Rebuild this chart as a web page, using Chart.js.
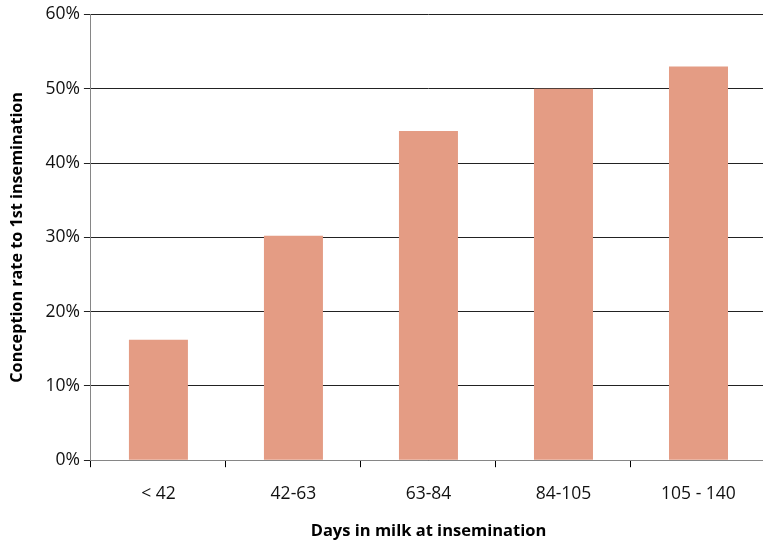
<!DOCTYPE html>
<html>
<head>
<meta charset="utf-8">
<script src="https://cdn.jsdelivr.net/npm/chart.js@4/dist/chart.umd.min.js"></script>
<style>
  html, body { margin: 0; padding: 0; background: #fff; overflow: hidden; }
  #wrap { position: relative; width: 766px; height: 541px; }
</style>
</head>
<body>
<div id="wrap"><canvas id="c"></canvas></div>
<script>
const categories = ['< 42', '42-63', '63-84', '84-105', '105 - 140'];
const conceptionRate = [16.2, 30.2, 44.3, 50.0, 53.0];
const yTicks = [0, 10, 20, 30, 40, 50, 60];

const FONT = '"Open Sans", "DejaVu Sans", sans-serif';

new Chart(document.getElementById('c'), {
  type: 'bar',
  data: {
    labels: categories,
    datasets: [{
      data: conceptionRate,
      backgroundColor: '#e49c84',
      borderWidth: 0,
      barPercentage: 0.437,
      categoryPercentage: 1.0
    }]
  },
  options: {
    responsive: true,
    maintainAspectRatio: false,
    animation: false,
    layout: { padding: { top: 3, right: 0, bottom: 0, left: 8 } },
    plugins: { legend: { display: false }, tooltip: { enabled: false } },
    scales: {
      x: {
        grid: {
          offset: true,
          drawOnChartArea: false,
          drawTicks: true,
          tickLength: 7,
          color: '#000'
        },
        border: { color: '#868686', width: 1 },
        ticks: { color: '#111', font: { family: FONT, size: 17.5 }, padding: 16 },
        title: {
          display: true,
          text: 'Days in milk at insemination',
          color: '#000',
          font: { family: FONT, size: 16.5, weight: 'bold' },
          padding: { top: 1, bottom: 0 }
        }
      },
      y: {
        min: 0,
        max: 60,
        afterBuildTicks: (axis) => { axis.ticks = yTicks.map(v => ({ value: v })); },
        grid: {
          color: '#222',
          lineWidth: 1,
          drawTicks: true,
          tickLength: 7
        },
        border: { color: '#868686', width: 1 },
        ticks: {
          color: '#111',
          font: { family: FONT, size: 17.5 },
          padding: 4,
          callback: (v) => v + '%'
        },
        title: {
          display: true,
          text: 'Conception rate to 1st insemination',
          color: '#000',
          font: { family: FONT, size: 16.2, weight: 'bold' },
          padding: { top: 0, bottom: 14 }
        }
      }
    }
  }
});
</script>
</body>
</html>
